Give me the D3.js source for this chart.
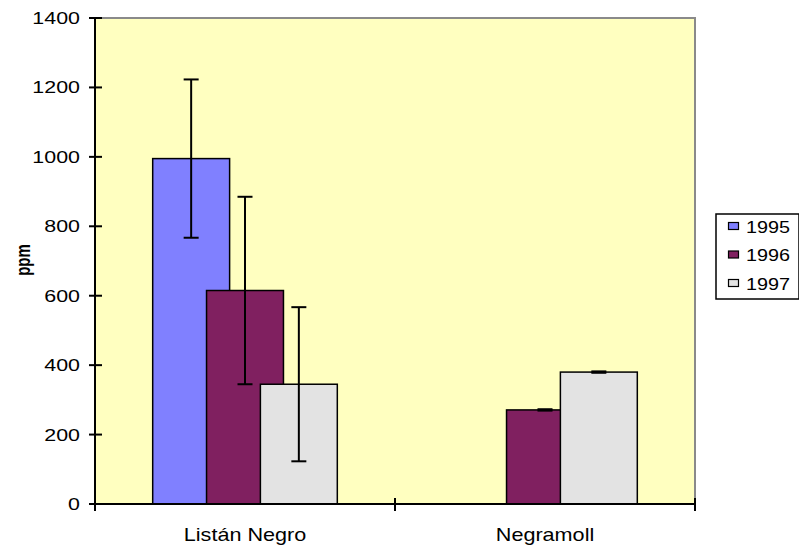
<!DOCTYPE html>
<html>
<head>
<meta charset="utf-8">
<script src="https://cdn.jsdelivr.net/npm/d3@7"></script>
<style>
  html, body { margin: 0; padding: 0; background: #fff; }
  svg { display: block; }
  text { font-family: "Liberation Sans", Arial, sans-serif; fill: #000; }
</style>
</head>
<body>
<svg id="chart" width="799" height="546"></svg>
<script>
// ---- data ----
const categories = ["Listán Negro", "Negramoll"];
const seriesNames = ["1995", "1996", "1997"];
const values1995 = [995, null];
const values1996 = [615, 271];
const values1997 = [345, 380];
const errors1995 = [228, null];
const errors1996 = [270, 2];
const errors1997 = [222, 2];
const yTicks = [0, 200, 400, 600, 800, 1000, 1200, 1400];
const yLabel = "ppm";

const seriesValues = [values1995, values1996, values1997];
const seriesErrors = [errors1995, errors1996, errors1997];
const colors = ["#8080FF", "#802060", "#E3E3E3"];

// ---- layout ----
const svg = d3.select("#chart");
const plot = { left: 95, right: 695, top: 18, bottom: 504 };
const sx = 1.26; // horizontal text stretch

const x = d3.scaleBand().domain(categories).range([plot.left, plot.right]).padding(0);
const y = d3.scaleLinear().domain([0, 1400]).range([plot.bottom, plot.top]);

const gapWidth = 1.5, overlap = 0.3;
const nS = seriesNames.length;
const barW = x.bandwidth() / ((nS - 1) * (1 - overlap) + 1 + gapWidth);
const step = barW * (1 - overlap);
const offset0 = barW * gapWidth / 2;

// plot background
svg.append("rect")
  .attr("x", plot.left).attr("y", plot.top)
  .attr("width", plot.right - plot.left).attr("height", plot.bottom - plot.top)
  .attr("fill", "#FFFFC0");

// top & right border (gray)
svg.append("path")
  .attr("d", `M${plot.left},${plot.top}H${plot.right}V${plot.bottom}`)
  .attr("fill", "none").attr("stroke", "#8a8a8a").attr("stroke-width", 2);

// bars
const barData = [];
seriesNames.forEach((s, si) => {
  categories.forEach((c, ci) => {
    const v = seriesValues[si][ci];
    if (v == null) return;
    barData.push({ si, c, v, e: seriesErrors[si][ci] });
  });
});
const bx = d => x(d.c) + offset0 + d.si * step;

svg.append("g").selectAll("rect").data(barData).join("rect")
  .attr("x", bx)
  .attr("y", d => y(d.v))
  .attr("width", barW)
  .attr("height", d => y(0) - y(d.v))
  .attr("fill", d => colors[d.si])
  .attr("stroke", "#000").attr("stroke-width", 1.5);

// error bars
const eg = svg.append("g").attr("stroke", "#000").attr("stroke-width", 2);
barData.filter(d => d.e != null).forEach(d => {
  const cx = bx(d) + barW / 2;
  eg.append("line").attr("x1", cx).attr("x2", cx).attr("y1", y(d.v + d.e)).attr("y2", y(d.v - d.e));
  [d.v + d.e, d.v - d.e].forEach(t => {
    eg.append("line").attr("x1", cx - 7.5).attr("x2", cx + 7.5).attr("y1", y(t)).attr("y2", y(t));
  });
});

// y axis
svg.append("line").attr("x1", plot.left).attr("x2", plot.left)
  .attr("y1", plot.top).attr("y2", plot.bottom).attr("stroke", "#000").attr("stroke-width", 2);
const yg = svg.append("g");
yTicks.forEach(t => {
  yg.append("line").attr("x1", plot.left - 6).attr("x2", plot.left + 7)
    .attr("y1", y(t)).attr("y2", y(t)).attr("stroke", "#000").attr("stroke-width", 2);
  yg.append("text")
    .attr("transform", `translate(80,${y(t) + 6}) scale(${sx},1)`)
    .attr("text-anchor", "end").attr("font-size", 17).text(t);
});

// x axis
svg.append("line").attr("x1", plot.left).attr("x2", plot.right)
  .attr("y1", plot.bottom).attr("y2", plot.bottom).attr("stroke", "#000").attr("stroke-width", 2);
const xTickPos = [plot.left, ...categories.map(c => x(c) + x.bandwidth())];
xTickPos.forEach(p => {
  svg.append("line").attr("x1", p).attr("x2", p)
    .attr("y1", plot.bottom - 6).attr("y2", plot.bottom + 7)
    .attr("stroke", "#000").attr("stroke-width", 2);
});
categories.forEach(c => {
  svg.append("text")
    .attr("transform", `translate(${x(c) + x.bandwidth() / 2},541) scale(${sx * 0.98},1)`)
    .attr("text-anchor", "middle").attr("font-size", 17.5).text(c);
});

// y label
svg.append("text")
  .attr("transform", `translate(30,260) scale(1.35,1) rotate(-90)`)
  .attr("text-anchor", "middle").attr("font-size", 15).attr("font-weight", "bold")
  .text(yLabel);

// legend
const lg = svg.append("g");
lg.append("rect").attr("x", 716).attr("y", 214).attr("width", 83).attr("height", 85)
  .attr("fill", "#fff").attr("stroke", "#000").attr("stroke-width", 1.5);
seriesNames.forEach((s, i) => {
  const cy = 226 + i * 28.5;
  lg.append("rect").attr("x", 728.5).attr("y", cy - 3.5).attr("width", 10).attr("height", 7)
    .attr("fill", colors[i]).attr("stroke", "#000").attr("stroke-width", 1.2);
  lg.append("text")
    .attr("transform", `translate(746,${cy + 6.5}) scale(1.2,1)`)
    .attr("font-size", 16.5).text(s);
});
</script>
</body>
</html>
